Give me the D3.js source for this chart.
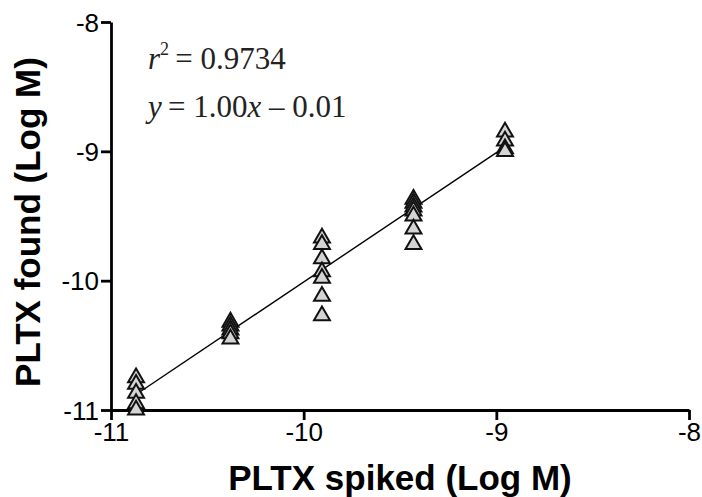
<!DOCTYPE html>
<html><head><meta charset="utf-8">
<script src="https://cdn.jsdelivr.net/npm/d3@7"></script>
<style>body{margin:0;background:#fff}svg{display:block}</style>
</head><body>
<script>
const spikedLevels = [-10.87, -10.38, -9.905, -9.43, -8.955];
const foundValues = [
  [-10.75, -10.8, -10.87, -10.95, -11.0],
  [-10.32, -10.35, -10.38, -10.41, -10.45],
  [-9.67, -9.72, -9.83, -9.93, -9.98, -10.12, -10.27],
  [-9.37, -9.40, -9.43, -9.46, -9.50, -9.60, -9.72],
  [-8.85, -8.92, -8.98, -9.0]
];
const xTicks = [-11, -10, -9, -8];
const yTicks = [-11, -10, -9, -8];
const slope = 1.00, intercept = -0.01;
const r2Text = "0.9734";

const W = 702, H = 497;
const svg = d3.select("body").append("svg").attr("width", W).attr("height", H);
const x = d3.scaleLinear().domain([-11, -8]).range([111, 689]);
const y = d3.scaleLinear().domain([-11, -8]).range([410, 22]);
const fmt = d => String(d);

const gx = svg.append("g").attr("transform", "translate(0,410)")
  .call(d3.axisBottom(x).tickValues(xTicks).tickFormat(fmt).tickSize(10).tickSizeOuter(0));
const gy = svg.append("g").attr("transform", "translate(111,0)")
  .call(d3.axisLeft(y).tickValues(yTicks).tickFormat(fmt).tickSize(10).tickSizeOuter(0));
[gx, gy].forEach(g => {
  g.select(".domain").attr("stroke", "#000").attr("stroke-width", 2.8);
  g.selectAll(".tick line").attr("stroke", "#000").attr("stroke-width", 2.8);
  g.selectAll(".tick text").attr("font-family", "Liberation Sans, Arial, sans-serif").attr("font-size", 26).attr("fill", "#000");
});
gx.selectAll(".tick text").attr("dy", "0.8em").attr("y", 10);
gy.selectAll(".tick text").attr("x", -12).attr("dy", "0.35em");

// regression line
const x0 = d3.min(spikedLevels), x1 = d3.max(spikedLevels);
svg.append("line")
  .attr("x1", x(x0)).attr("y1", y(slope * x0 + intercept))
  .attr("x2", x(x1)).attr("y2", y(slope * x1 + intercept))
  .attr("stroke", "#000").attr("stroke-width", 1.4);

// points
const pts = [];
spikedLevels.forEach((sx, i) => foundValues[i].forEach(v => pts.push({sx, v})));
const tri = d3.symbol().type(d3.symbolTriangle).size(110);
svg.append("g").selectAll("path").data(pts).enter().append("path")
  .attr("d", tri)
  .attr("transform", d => `translate(${x(d.sx)},${y(d.v)})`)
  .attr("fill", "#d4d4d4").attr("stroke", "#111").attr("stroke-width", 2)
  .attr("stroke-linejoin", "miter");

// annotation
const ann = svg.append("g").attr("font-family", "Liberation Serif, Times New Roman, serif").attr("font-size", 31).attr("fill", "#222");
const t1 = ann.append("text").attr("x", 148).attr("y", 69);
t1.append("tspan").attr("font-style", "italic").text("r");
t1.append("tspan").attr("font-size", 18).attr("dy", -14).text("2");
t1.append("tspan").attr("dy", 14).text("\u2009= " + r2Text);
const t2 = ann.append("text").attr("x", 148).attr("y", 117);
t2.append("tspan").attr("font-style", "italic").text("y");
t2.append("tspan").text("\u2009= 1.00");
t2.append("tspan").attr("font-style", "italic").text("x");
t2.append("tspan").text(" \u2013 0.01");

// axis titles
svg.append("text").attr("x", 400).attr("y", 490).attr("text-anchor", "middle")
  .attr("font-family", "Liberation Sans, Arial, sans-serif").attr("font-weight", "bold").attr("font-size", 35)
  .text("PLTX spiked (Log M)");
svg.append("text").attr("transform", "translate(40,222) rotate(-90)").attr("text-anchor", "middle")
  .attr("font-family", "Liberation Sans, Arial, sans-serif").attr("font-weight", "bold").attr("font-size", 35)
  .text("PLTX found (Log M)");
</script>
</body></html>
